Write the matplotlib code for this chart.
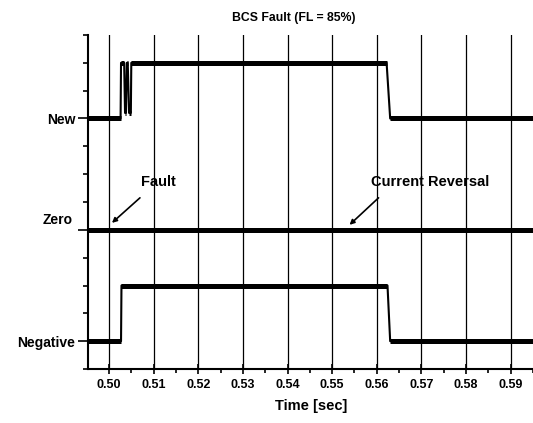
import numpy as np
import matplotlib
matplotlib.use("Agg")
import matplotlib.pyplot as plt
import matplotlib.transforms as mtransforms

plt.rcParams['font.family'] = ['Liberation Sans', 'DejaVu Sans']
plt.rcParams['font.weight'] = 'bold'

# signal traces (time in sec, level in axis units)
new_t = [0.4953, 0.5026, 0.5027, 0.5034, 0.5036, 0.5038, 0.5040, 0.5042,
         0.5045, 0.5049, 0.5050, 0.5622, 0.5630, 0.5949]
new_v = [9, 9, 11, 11, 9.2, 9.2, 11, 11, 9.2, 9.2, 11, 11, 9, 9]

zero_t = [0.4953, 0.5949]
zero_v = [5, 5]

neg_t = [0.4953, 0.5027, 0.5028, 0.5624, 0.5630, 0.5949]
neg_v = [1, 1, 3, 3, 1, 1]

level_ticks = [1, 5, 9]
level_names = ["Negative", "Zero", "New"]
time_ticks = [0.50, 0.51, 0.52, 0.53, 0.54, 0.55, 0.56, 0.57, 0.58, 0.59]

fig = plt.figure(figsize=(5.33, 4.23), dpi=100)
ax = fig.add_axes([88 / 533, 1 - 369 / 423, 445 / 533, 334 / 423])

for t, v in [(new_t, new_v), (zero_t, zero_v), (neg_t, neg_v)]:
    # thin transitions, thick steady parts
    ax.plot(t, v, color='black', lw=1.5, zorder=3)
    for i in range(len(t) - 1):
        if v[i] == v[i + 1]:
            ax.plot(t[i:i + 2], v[i:i + 2], color='black', lw=3.6,
                    solid_capstyle='butt', zorder=3)

ax.set_xlim(0.4953, 0.5949)
ax.set_ylim(0, 12)

ax.set_xticks(time_ticks)
ax.set_xticklabels([f"{x:.2f}" for x in time_ticks])
ax.set_xticks(np.array(time_ticks) + 0.005, minor=True)
ax.tick_params(axis='x', which='major', direction='inout', length=7,
               width=1.2, labelsize=9, pad=4)
ax.tick_params(axis='x', which='minor', direction='out', length=3, width=1.2)

ax.set_yticks(level_ticks)
ax.set_yticklabels([level_names[0], "", level_names[2]])
ax.set_yticks(range(0, 13), minor=True)
ax.tick_params(axis='y', which='major', direction='out', length=7,
               width=1.2, labelsize=10, pad=2)
ax.tick_params(axis='y', which='minor', direction='out', length=3.5, width=1.2)

# "Zero" label sits a bit above its tick
trans = mtransforms.blended_transform_factory(ax.transAxes, ax.transData)
ax.text(-0.034, 5.1, level_names[1], transform=trans, ha='right',
        va='bottom', fontsize=10, fontweight='bold')

ax.grid(axis='x', which='major', color='black', lw=0.9)
for s in ['top', 'right']:
    ax.spines[s].set_visible(False)
for s in ['left', 'bottom']:
    ax.spines[s].set_linewidth(1.5)

ax.annotate("", xy=(0.50067, 5.25), xytext=(0.50694, 6.15),
            arrowprops=dict(arrowstyle='-|>', color='black', lw=1.2,
                            mutation_scale=7, shrinkA=0, shrinkB=0))
ax.text(0.50716, 6.71, "Fault", ha='left', va='center', fontsize=10.5)
ax.annotate("", xy=(0.5539, 5.18), xytext=(0.5604, 6.15),
            arrowprops=dict(arrowstyle='-|>', color='black', lw=1.2,
                            mutation_scale=7, shrinkA=0, shrinkB=0))
ax.text(0.5588, 6.71, "Current Reversal", ha='left', va='center',
        fontsize=10.5)

fig.text(294 / 533, 1 - 18 / 423, "BCS Fault (FL = 85%)", ha='center',
         va='center', fontsize=8.8, fontweight='bold')
fig.text(311 / 533, 1 - 406 / 423, "Time [sec]", ha='center', va='center',
         fontsize=10.5, fontweight='bold')

fig.savefig("out.png", dpi=100)
